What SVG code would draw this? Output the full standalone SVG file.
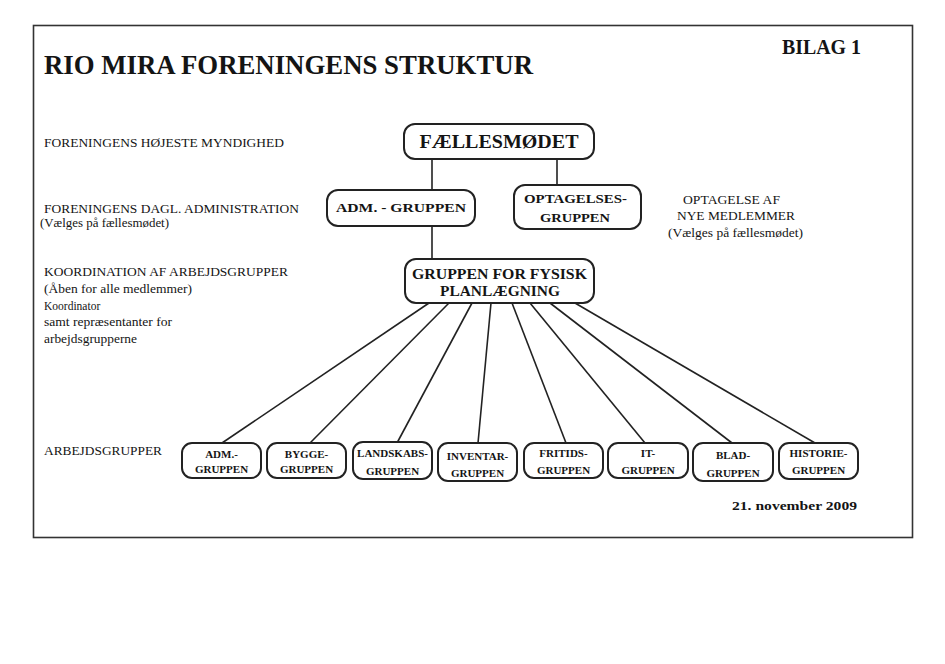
<svg xmlns="http://www.w3.org/2000/svg" width="945" height="664" viewBox="0 0 945 664">
<style>
text{font-family:"Liberation Serif","Times New Roman",serif;fill:#141414}
.b{font-weight:bold}
.lbl{font-size:11.5px}
.box{fill:#fff;stroke:#222;stroke-width:2}
.sm{font-size:11px;font-weight:bold;text-anchor:middle}
.mid{text-anchor:middle;font-weight:bold}
.con{stroke:#222;stroke-width:1.6;fill:none}
</style>
<rect width="945" height="664" fill="#fff"/>
<rect x="33.5" y="25.5" width="879" height="512" fill="none" stroke="#333" stroke-width="1.6"/>
<text x="44" y="74" class="b" font-size="26.5" textLength="489" lengthAdjust="spacingAndGlyphs">RIO MIRA FORENINGENS STRUKTUR</text>
<text x="782" y="54" class="b" font-size="20" textLength="79" lengthAdjust="spacingAndGlyphs">BILAG 1</text>
<g id="labels">
<text x="44" y="147" class="lbl" textLength="240" lengthAdjust="spacingAndGlyphs">FORENINGENS HØJESTE MYNDIGHED</text>
<text x="44" y="213" class="lbl" textLength="255" lengthAdjust="spacingAndGlyphs">FORENINGENS DAGL. ADMINISTRATION</text>
<text x="40" y="227" class="lbl" textLength="129" lengthAdjust="spacingAndGlyphs">(Vælges på fællesmødet)</text>
<text x="44" y="276" class="lbl" textLength="244" lengthAdjust="spacingAndGlyphs">KOORDINATION AF ARBEJDSGRUPPER</text>
<text x="44" y="293" class="lbl" textLength="148" lengthAdjust="spacingAndGlyphs">(Åben for alle medlemmer)</text>
<text x="44" y="310" class="lbl">Koordinator</text>
<text x="44" y="326" class="lbl" textLength="128" lengthAdjust="spacingAndGlyphs">samt repræsentanter for</text>
<text x="44" y="343" class="lbl" textLength="93" lengthAdjust="spacingAndGlyphs">arbejdsgrupperne</text>
<text x="44" y="455" class="lbl" textLength="118" lengthAdjust="spacingAndGlyphs">ARBEJDSGRUPPER</text>
<text x="683" y="204" class="lbl" textLength="97" lengthAdjust="spacingAndGlyphs">OPTAGELSE AF</text>
<text x="677" y="220" class="lbl" textLength="118" lengthAdjust="spacingAndGlyphs">NYE MEDLEMMER</text>
<text x="668" y="237" class="lbl" textLength="135" lengthAdjust="spacingAndGlyphs">(Vælges på fællesmødet)</text>
<text x="732" y="510" class="b" font-size="13" textLength="125" lengthAdjust="spacingAndGlyphs">21. november 2009</text>
</g>
<g id="connectors">
<line class="con" x1="432" y1="159" x2="432" y2="190"/>
<line class="con" x1="557" y1="159" x2="557" y2="185"/>
<line class="con" x1="432" y1="226" x2="432" y2="259"/>
<line class="con" x1="429" y1="303" x2="222" y2="443"/>
<line class="con" x1="449" y1="303" x2="310" y2="443"/>
<line class="con" x1="472" y1="303" x2="397" y2="443"/>
<line class="con" x1="491" y1="303" x2="478" y2="443"/>
<line class="con" x1="512" y1="303" x2="566" y2="443"/>
<line class="con" x1="530" y1="303" x2="645" y2="443"/>
<line class="con" x1="550" y1="303" x2="732" y2="443"/>
<line class="con" x1="575" y1="303" x2="815" y2="443"/>
</g>
<g id="faellesmodet">
<rect class="box" x="404" y="124" width="190" height="35" rx="11"/>
<text x="499" y="148" class="mid" font-size="19" textLength="159" lengthAdjust="spacingAndGlyphs">FÆLLESMØDET</text>
</g>
<g id="adm-gruppen">
<rect class="box" x="327" y="190" width="148" height="36" rx="11"/>
<text x="401" y="212" class="mid" font-size="13" textLength="130" lengthAdjust="spacingAndGlyphs">ADM. - GRUPPEN</text>
</g>
<g id="optagelses-gruppen">
<rect class="box" x="514" y="185" width="127" height="44" rx="11"/>
<text x="575.5" y="203" class="mid" font-size="13" textLength="103" lengthAdjust="spacingAndGlyphs">OPTAGELSES-</text>
<text x="575" y="222" class="mid" font-size="13" textLength="70" lengthAdjust="spacingAndGlyphs">GRUPPEN</text>
</g>
<g id="fysisk-planlaegning">
<rect class="box" x="405" y="259" width="189" height="44" rx="11"/>
<text x="499.5" y="279" class="mid" font-size="14" textLength="175" lengthAdjust="spacingAndGlyphs">GRUPPEN FOR FYSISK</text>
<text x="500" y="296" class="mid" font-size="14" textLength="120" lengthAdjust="spacingAndGlyphs">PLANLÆGNING</text>
</g>
<g id="adm">
<rect class="box" x="182" y="443" width="79" height="35" rx="10"/>
<text x="221.5" y="458" class="sm">ADM.-</text>
<text x="221.5" y="473" class="sm">GRUPPEN</text>
</g>
<g id="bygge">
<rect class="box" x="267" y="443" width="79" height="35" rx="10"/>
<text x="306.5" y="458" class="sm">BYGGE-</text>
<text x="306.5" y="473" class="sm">GRUPPEN</text>
</g>
<g id="landskabs">
<rect class="box" x="353" y="442" width="79" height="37" rx="10"/>
<text x="392.5" y="457" class="sm">LANDSKABS-</text>
<text x="392.5" y="475" class="sm">GRUPPEN</text>
</g>
<g id="inventar">
<rect class="box" x="438" y="443" width="79" height="38" rx="10"/>
<text x="477.5" y="460" class="sm">INVENTAR-</text>
<text x="477.5" y="477" class="sm">GRUPPEN</text>
</g>
<g id="fritids">
<rect class="box" x="524" y="443" width="79" height="35" rx="10"/>
<text x="563.5" y="457" class="sm">FRITIDS-</text>
<text x="563.5" y="474" class="sm">GRUPPEN</text>
</g>
<g id="it">
<rect class="box" x="608" y="443" width="80" height="35" rx="10"/>
<text x="648" y="457" class="sm">IT-</text>
<text x="648" y="474" class="sm">GRUPPEN</text>
</g>
<g id="blad">
<rect class="box" x="693" y="443" width="80" height="38" rx="10"/>
<text x="733" y="459" class="sm">BLAD-</text>
<text x="733" y="477" class="sm">GRUPPEN</text>
</g>
<g id="historie">
<rect class="box" x="779" y="443" width="79" height="36" rx="10"/>
<text x="818.5" y="457" class="sm">HISTORIE-</text>
<text x="818.5" y="474" class="sm">GRUPPEN</text>
</g>
</svg>
